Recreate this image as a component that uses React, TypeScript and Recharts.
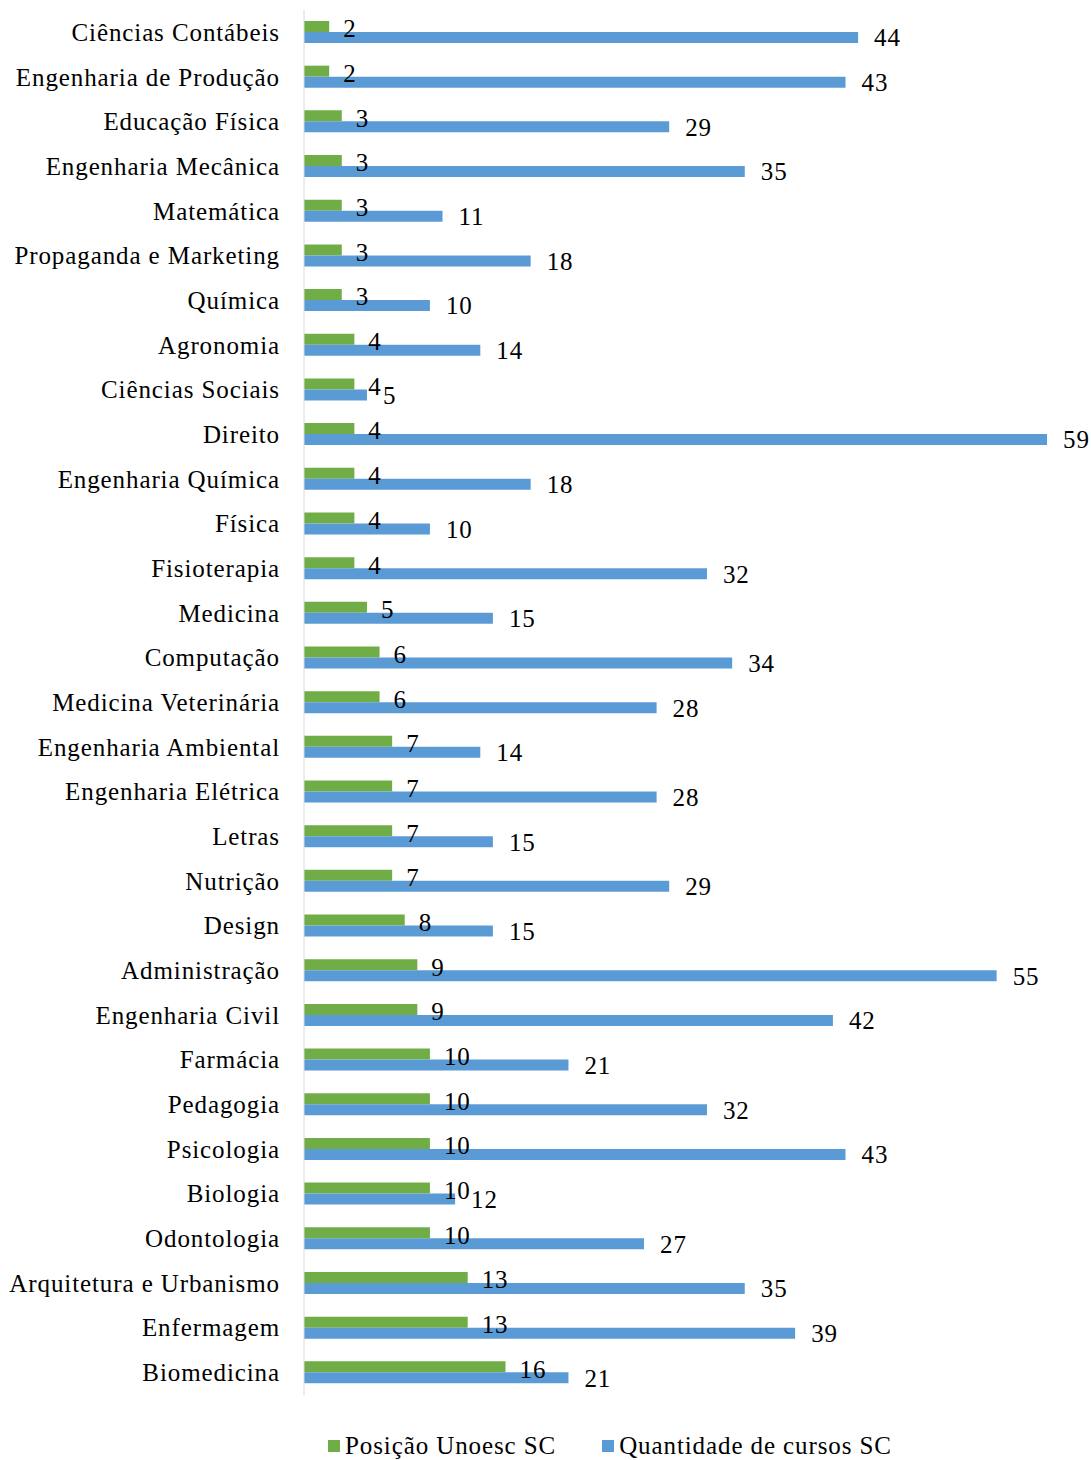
import { BarChart, Bar, XAxis, YAxis, LabelList, Legend } from 'recharts'

const categories = [
  'Ciências Contábeis', 'Engenharia de Produção', 'Educação Física', 'Engenharia Mecânica',
  'Matemática', 'Propaganda e Marketing', 'Química', 'Agronomia', 'Ciências Sociais', 'Direito',
  'Engenharia Química', 'Física', 'Fisioterapia', 'Medicina', 'Computação', 'Medicina Veterinária',
  'Engenharia Ambiental', 'Engenharia Elétrica', 'Letras', 'Nutrição', 'Design', 'Administração',
  'Engenharia Civil', 'Farmácia', 'Pedagogia', 'Psicologia', 'Biologia', 'Odontologia',
  'Arquitetura e Urbanismo', 'Enfermagem', 'Biomedicina',
]
const posicao = [2, 2, 3, 3, 3, 3, 3, 4, 4, 4, 4, 4, 4, 5, 6, 6, 7, 7, 7, 7, 8, 9, 9, 10, 10, 10, 10, 10, 13, 13, 16]
const quantidade = [44, 43, 29, 35, 11, 18, 10, 14, 5, 59, 18, 10, 32, 15, 34, 28, 14, 28, 15, 29, 15, 55, 42, 21, 32, 43, 12, 27, 35, 39, 21]

const data = categories.map((c, i) => ({ curso: c, posicao: posicao[i], quantidade: quantidade[i] }))

const FONT = '"Liberation Serif", "Times New Roman", serif'
const GREEN = '#70ad47'
const BLUE = '#5b9bd5'

const textStyle = { fontFamily: FONT, fontSize: 25, fill: '#000', letterSpacing: 0.9 }

function CategoryTick({ x, y, payload }: { x?: number; y?: number; payload?: { value: string } }) {
  return (
    <text x={(x ?? 0) - 22} y={y} textAnchor="end" dominantBaseline="central" style={textStyle}>
      {payload?.value}
    </text>
  )
}

function LegendContent() {
  const items = [
    { label: 'Posição Unoesc SC', color: GREEN },
    { label: 'Quantidade de cursos SC', color: BLUE },
  ]
  return (
    <div style={{ display: 'flex', gap: 46, fontFamily: FONT, fontSize: 25, letterSpacing: 0.9, color: '#000', paddingLeft: 328 }}>
      {items.map(it => (
        <span key={it.label} style={{ display: 'flex', alignItems: 'center' }}>
          <span style={{ display: 'inline-block', width: 12, height: 12, background: it.color, marginRight: 5 }} />
          {it.label}
        </span>
      ))}
    </div>
  )
}

export default function App() {
  return (
    <div style={{ position: 'absolute', left: 0, top: 0, background: '#fff' }}>
      <BarChart
        width={1091}
        height={1460}
        data={data}
        layout="vertical"
        margin={{ top: 10, right: 44, bottom: 37, left: 0 }}
        barGap={0}
        barSize={11}
      >
        <XAxis type="number" domain={[0, 59]} hide />
        <YAxis
          type="category"
          dataKey="curso"
          width={304}
          axisLine={{ stroke: '#d9d9d9' }}
          tickLine={false}
          tickSize={0}
          tick={<CategoryTick />}
          interval={0}
        />
        <Legend verticalAlign="bottom" content={<LegendContent />} wrapperStyle={{ bottom: 0, left: 0, width: 1091 }} />
        <Bar dataKey="posicao" name="Posição Unoesc SC" fill={GREEN} isAnimationActive={false}>
          <LabelList dataKey="posicao" position="right" offset={14} dy={2} style={textStyle} />
        </Bar>
        <Bar dataKey="quantidade" name="Quantidade de cursos SC" fill={BLUE} isAnimationActive={false}>
          <LabelList dataKey="quantidade" position="right" offset={16} style={textStyle} />
        </Bar>
      </BarChart>
    </div>
  )
}
